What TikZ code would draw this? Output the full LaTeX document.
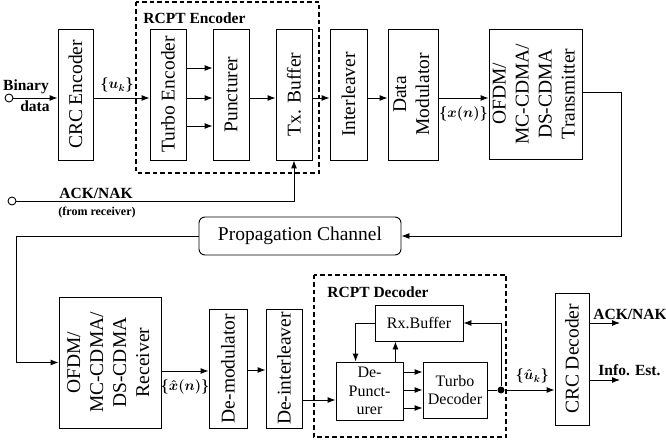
\documentclass[tikz,border=0pt]{standalone}
\usepackage{amsmath}
\usepackage{graphicx}
\usepackage{fontspec}
\setmainfont{Liberation Serif}
\usepackage{tikz}
\usetikzlibrary{calc,arrows.meta}

\begin{document}
\begin{tikzpicture}[x=1pt,y=-1pt,line width=0.9pt,
    >={Latex[length=8pt,width=6pt]},
    blk/.style={draw,rectangle,inner sep=0pt,font=\fontsize{19.5}{23}\selectfont},
    sblk/.style={draw,rectangle,inner sep=0pt,align=center,font=\fontsize{16}{18.5}\selectfont},
    lbl/.style={inner sep=0pt,font=\fontsize{15.5}{17}\selectfont\bfseries\boldmath},
    mlbl/.style={inner sep=0pt,font=\fontsize{14}{16}\selectfont\boldmath},
    rcpt/.style={draw,dash pattern=on 4.5pt off 3pt,line width=1.3pt},
    port/.style={draw,circle,inner sep=0pt,minimum size=8pt}]
      \useasboundingbox (0,0) rectangle (666,443);

      %% transmitter chain
      \node [blk,minimum width=35,minimum height=131] (crcenc) at (75.5,94.5) {\rotatebox{90}{CRC Encoder}};
      \node [blk,minimum width=36,minimum height=131] (turboenc) at (168,94.5) {\rotatebox{90}{Turbo Encoder}};
      \node [blk,minimum width=36,minimum height=131] (punct) at (231,94.5) {\rotatebox{90}{Puncturer}};
      \node [blk,minimum width=36,minimum height=131] (txbuf) at (294,94.5) {\rotatebox{90}{Tx. Buffer}};
      \node [blk,minimum width=37,minimum height=131] (interl) at (348.5,94.5) {\rotatebox{90}{Interleaver}};
      \node [blk,minimum width=50,minimum height=131] (datamod) at (413,94.5) {\rotatebox{90}{\begin{tabular}{@{}c@{}}Data\\Modulator\end{tabular}}};
      \node [blk,minimum width=93,minimum height=130] (ofdmtx) at (535.5,94) {\rotatebox{90}{\begin{tabular}{@{}c@{}}OFDM/\\MC-CDMA/\\DS-CDMA\\Transmitter\end{tabular}}};

      \draw [rcpt] (136,2) rectangle (319,173);
      \node [lbl,anchor=west] (enclbl) at (143,18) {RCPT Encoder};

      \node [port] (bin) at (9,98) {};
      \node [lbl] (binlbl) at (26,87) {Binary};
      \node [lbl] (datalbl) at (35,106) {data};
      \coordinate (row) at (0,98);

      \draw [->] (bin) -- (bin -| crcenc.west);
      \draw [->] (crcenc.east |- row) -- (turboenc.west |- row) node [mlbl,pos=0.42,above=5pt] {$\{u_k\}$};
      \foreach \y in {68,98,126}
        \draw [->] (turboenc.east |- 0,\y) -- (punct.west |- 0,\y);
      \draw [->] (punct.east |- row) -- (txbuf.west |- row);
      \draw [->] (txbuf.east |- row) -- (interl.west |- row);
      \draw [->] (interl.east |- row) -- (datamod.west |- row);
      \draw [->] (datamod.east |- row) -- (ofdmtx.west |- row) node [mlbl,midway,below=8pt] {$\{x(n)\}$};

      %% ACK/NAK feedback
      \node [port] (ackin) at (12,201) {};
      \draw [->] (ackin) -| (txbuf.south);
      \node [lbl] (acklbl) at (96,193) {ACK/NAK};
      \node [lbl,font=\fontsize{12}{14}\selectfont\bfseries] (fromlbl) at (97,213) {(from receiver)};

      %% channel
      \node [blk,rounded corners=6pt,minimum width=202,minimum height=38] (prop) at (300,236) {Propagation Channel};
      \coordinate (bend) at (621,236);
      \coordinate (bendb) at (16,236);
      \draw [->] (ofdmtx.east |- 0,92) -| (bend) -- (prop.east);

      %% receiver chain
      \node [blk,minimum width=102,minimum height=131] (ofdmrx) at (110,362.5) {\rotatebox{90}{\begin{tabular}{@{}c@{}}OFDM/\\MC-CDMA/\\DS-CDMA\\Receiver\end{tabular}}};
      \node [blk,minimum width=38,minimum height=119] (demod) at (228,368.5) {\rotatebox{90}{De-modulator}};
      \node [blk,minimum width=36,minimum height=119] (deinterl) at (284,368.5) {\rotatebox{90}{De-interleaver}};
      \node [blk,minimum width=34,minimum height=132] (crcdec) at (572,359) {\rotatebox{90}{CRC Decoder}};

      \draw [->] (prop.west) -- (bendb) |- (ofdmrx.west);
      \draw [->] (ofdmrx.east |- 0,371) -- (demod.west |- 0,371) node [mlbl,pos=0.5,below=8pt] {$\{\hat{x}(n)\}$};
      \draw [->] (demod.east |- 0,370) -- (deinterl.west |- 0,370);

      %% RCPT decoder
      \draw [rcpt] (314,275) rectangle (506,437);
      \node [lbl,anchor=west] (declbl) at (327,292) {RCPT Decoder};
      \node [sblk,minimum width=88,minimum height=36] (rxbuf) at (419,323) {Rx.Buffer};
      \node [sblk,minimum width=67,minimum height=58] (depunct) at (369.5,391) {De-\\Punct-\\urer};
      \node [sblk,minimum width=64,minimum height=56] (turbodec) at (455,390) {Turbo\\Decoder};
      \node [circle,fill,inner sep=0pt,minimum size=7pt] (tap) at (501,390) {};

      \draw [->] (deinterl.east |- 0,400) -- (depunct.west |- 0,400);
      \foreach \y in {372,390,408}
        \draw [->] (depunct.east |- 0,\y) -- (turbodec.west |- 0,\y);
      \draw (turbodec.east |- tap) -- (tap);
      \draw [->] (tap) -- (tap -| crcdec.west) node [mlbl,pos=0.55,above=6pt] {$\{\hat{u}_k\}$};
      \draw [->] (tap) |- (rxbuf.east);
      \draw [->] (rxbuf.west) -| ([xshift=20pt]depunct.north west);
      \draw [->] ([xshift=-8pt]depunct.north east) -- ([xshift=-8pt]depunct.north east |- rxbuf.south);

      %% outputs
      \coordinate (ackout) at (620,323);
      \coordinate (infout) at (620,380);
      \draw [->] (crcdec.east |- ackout) -- (ackout);
      \draw [->] (crcdec.east |- infout) -- (infout);
      \node [lbl,anchor=west] (ackoutlbl) at (593,314) {ACK/NAK};
      \node [lbl,anchor=west] (inflbl) at (598,370) {Info. Est.};
\end{tikzpicture}
\end{document}
